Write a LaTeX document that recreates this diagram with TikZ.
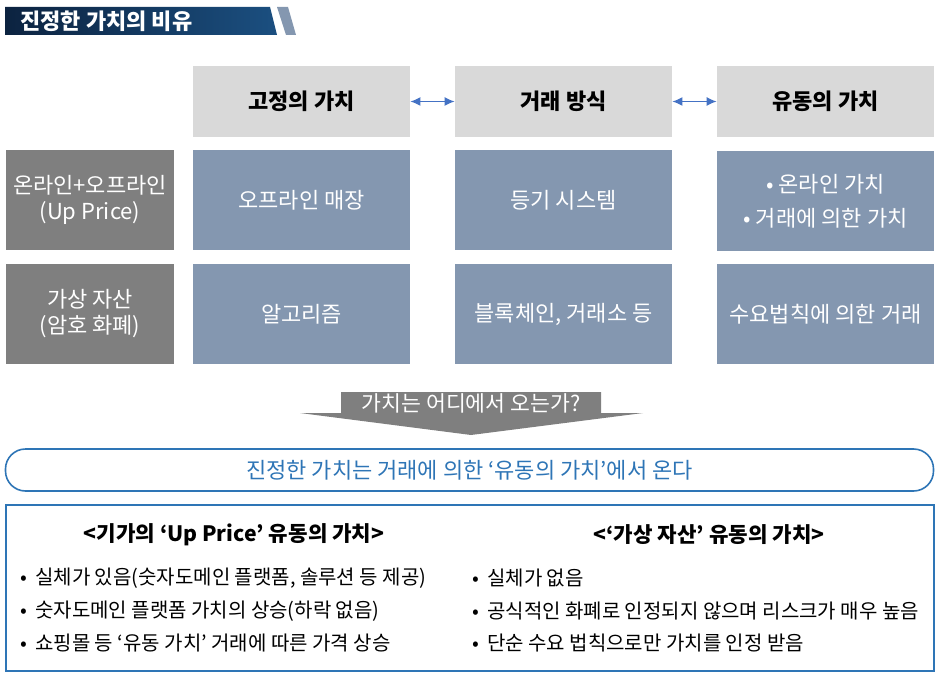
\documentclass[tikz,border=0pt]{standalone}
\usepackage{fontspec}
\setmainfont{Noto Sans CJK KR}
\usetikzlibrary{positioning,arrows.meta}
\definecolor{intest}{HTML}{D9D9D9}
\definecolor{grigioblu}{HTML}{8497B0}
\definecolor{grigioscuro}{HTML}{7F7F7F}
\definecolor{frecciablu}{HTML}{4472C4}
\definecolor{bordoblu}{HTML}{2E75B6}
\definecolor{navyA}{HTML}{0C2340}
\definecolor{navyB}{HTML}{1B4F80}
\newcommand{\pallino}{•\hspace{4pt}}
\begin{document}
\begin{tikzpicture}[x=0.5pt,y=-0.5pt,font=\fontsize{10}{12}\selectfont,
    intestazione/.style={fill=intest,minimum width=108.5pt,minimum height=35.5pt,inner sep=0pt,font=\fontsize{11}{13}\selectfont\bfseries},
    cella/.style={fill=grigioblu,text=white,minimum width=108.5pt,minimum height=50pt,inner sep=0pt,align=center,font=\fontsize{11}{13}\selectfont},
    lato/.style={fill=grigioscuro,text=white,minimum width=84pt,minimum height=50pt,inner sep=0pt,align=center,font=\fontsize{11}{13}\selectfont},
    punto/.style={anchor=west,inner sep=0pt},
    doppia/.style={{Latex[length=5pt,width=4.5pt]}-{Latex[length=5pt,width=4.5pt]},line width=0.6pt,frecciablu}]
        \useasboundingbox (0,0) rectangle (940,678);
        %disegno barra titolo
        \shade[left color=navyA,right color=navyB] (5,7)--(270,7)--(277,35)--(5,35)--cycle;
        \fill[grigioblu] (277,7)--(288,7)--(296,35)--(286,35)--cycle;
        \node[anchor=west,inner sep=0pt,text=white,font=\fontsize{11}{13}\selectfont\bfseries] (titolo) at (20,21) {진정한 가치의 비유};
        %disegno intestazioni
        \node[intestazione] (fisso) at (301.5,101.5) {고정의 가치};
        \node[intestazione] (metodo) at (563.5,101.5) {거래 방식};
        \node[intestazione] (flusso) at (825.5,101.5) {유동의 가치};
        \draw[doppia] (fisso)--(metodo);
        \draw[doppia] (metodo)--(flusso);
        %disegno prima riga
        \node[lato] (online) at (90,200) {온라인+오프라인\\[0pt](Up Price)};
        \node[cella] (negozio) at (301.5,200) {오프라인 매장};
        \node[cella] (sistema) at (563.5,200) {등기 시스템};
        \node[cella] (valori) at (825.5,201) {• 온라인 가치\\[4pt]• 거래에 의한 가치};
        %disegno seconda riga
        \node[lato] (virtuale) at (90,314) {가상 자산\\[0pt](암호 화폐)};
        \node[cella] (algoritmo) at (301.5,314) {알고리즘};
        \node[cella] (catena) at (563.5,314) {블록체인, 거래소 등};
        \node[cella] (domanda) at (825.5,314) {수요법칙에 의한 거래};
        %disegno freccia grande
        \fill[grigioscuro] (341,392)--(601,392)--(601,413)--(643,413)--(471,435)--(300,413)--(341,413)--cycle;
        \node[text=white,font=\fontsize{10.8}{13}\selectfont] (domanda2) at (471,403) {가치는 어디에서 오는가?};
        %disegno conclusione
        \node[draw=bordoblu,line width=0.8pt,rounded corners=10pt,minimum width=464pt,minimum height=21pt,text=bordoblu,font=\fontsize{11}{13}\selectfont] (conclusione) at (469.5,470) {진정한 가치는 거래에 의한 ‘유동의 가치’에서 온다};
        %disegno riquadro finale
        \node[draw=bordoblu,line width=1pt,minimum width=464pt,minimum height=83pt,inner sep=0pt] (riquadro) at (470,588) {};
        \node[font=\fontsize{10.6}{12}\selectfont\bfseries] (sinistra) at (234,535) {<기가의 ‘Up Price’ 유동의 가치>};
        \node[font=\fontsize{10.6}{12}\selectfont\bfseries] (destra) at (709,535) {<‘가상 자산’ 유동의 가치>};
        \node[punto] (s1) at (20,578) {\pallino 실체가 있음(숫자도메인 플랫폼, 솔루션 등 제공)};
        \node[punto] (s2) at (20,611) {\pallino 숫자도메인 플랫폼 가치의 상승(하락 없음)};
        \node[punto] (s3) at (20,643) {\pallino 쇼핑몰 등 ‘유동 가치’ 거래에 따른 가격 상승};
        \node[punto] (d1) at (472,578) {\pallino 실체가 없음};
        \node[punto] (d2) at (472,611) {\pallino 공식적인 화폐로 인정되지 않으며 리스크가 매우 높음};
        \node[punto] (d3) at (472,643) {\pallino 단순 수요 법칙으로만 가치를 인정 받음};
\end{tikzpicture}
\end{document}
